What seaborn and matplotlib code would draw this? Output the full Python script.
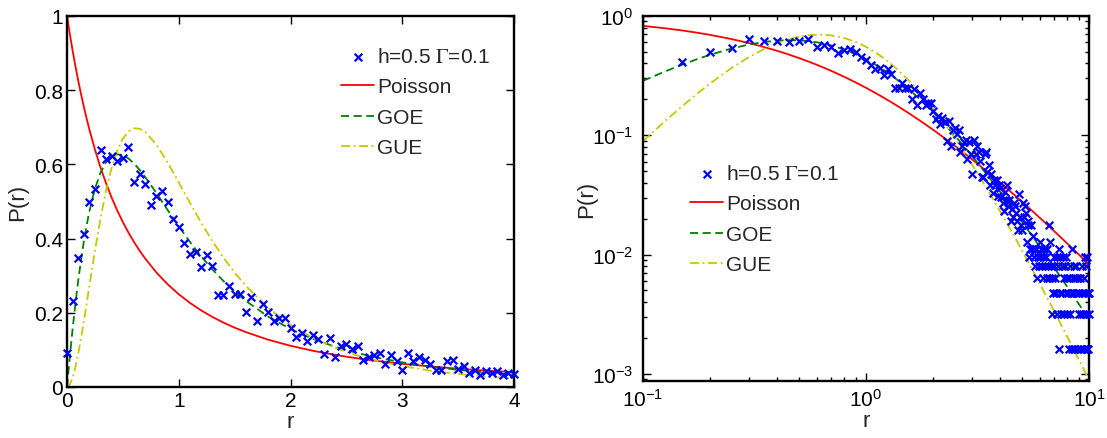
import numpy as np
import pandas as pd
import matplotlib
matplotlib.use("Agg")
import matplotlib.pyplot as plt
import matplotlib.ticker as mticker
import seaborn as sns

# ---------------- data ----------------
# bin centres of the measured level-spacing-ratio histogram
r_data = [
    0.00, 0.05, 0.10, 0.15, 0.20, 0.25, 0.30, 0.35, 0.40, 0.45, 0.50, 0.55, 0.60, 0.65, 0.70, 0.75, 0.80, 0.85, 0.90, 0.95,
    1.00, 1.05, 1.10, 1.15, 1.20, 1.25, 1.30, 1.35, 1.40, 1.45, 1.50, 1.55, 1.60, 1.65, 1.70, 1.75, 1.80, 1.85, 1.90, 1.95,
    2.00, 2.05, 2.10, 2.15, 2.20, 2.25, 2.30, 2.35, 2.40, 2.45, 2.50, 2.55, 2.60, 2.65, 2.70, 2.75, 2.80, 2.85, 2.90, 2.95,
    3.00, 3.05, 3.10, 3.15, 3.20, 3.25, 3.30, 3.35, 3.40, 3.45, 3.50, 3.55, 3.60, 3.65, 3.70, 3.75, 3.80, 3.85, 3.90, 3.95,
    4.00, 4.05, 4.10, 4.15, 4.20, 4.25, 4.30, 4.35, 4.40, 4.45, 4.50, 4.55, 4.60, 4.65, 4.70, 4.75, 4.80, 4.85, 4.90, 4.95,
    5.00, 5.05, 5.10, 5.15, 5.20, 5.25, 5.30, 5.35, 5.40, 5.45, 5.50, 5.55, 5.60, 5.65, 5.70, 5.75, 5.80, 5.85, 5.90, 5.95,
    6.00, 6.05, 6.10, 6.15, 6.20, 6.25, 6.30, 6.35, 6.40, 6.45, 6.50, 6.55, 6.60, 6.65, 6.70, 6.75, 6.80, 6.85, 6.90, 6.95,
    7.00, 7.05, 7.10, 7.15, 7.20, 7.25, 7.30, 7.35, 7.40, 7.45, 7.50, 7.55, 7.60, 7.65, 7.70, 7.75, 7.80, 7.85, 7.90, 7.95,
    8.00, 8.05, 8.10, 8.15, 8.20, 8.25, 8.30, 8.35, 8.40, 8.45, 8.50, 8.55, 8.60, 8.65, 8.70, 8.75, 8.80, 8.85, 8.90, 8.95,
    9.00, 9.05, 9.10, 9.15, 9.20, 9.25, 9.30, 9.35, 9.40, 9.45, 9.50, 9.55, 9.60, 9.65, 9.70, 9.75, 9.80, 9.85, 9.90, 9.95,
    10.00,
]
nan = float("nan")
p_data = [
    0.091, 0.232, 0.349, 0.413, 0.500, 0.535, 0.639, 0.614, 0.623, 0.608, 0.617, 0.647, 0.553, 0.575, 0.546, 0.491, 0.516, 0.527, 0.498, 0.452,
    0.430, 0.387, 0.358, 0.363, 0.323, 0.356, 0.326, 0.247, 0.247, 0.272, 0.251, 0.251, 0.203, 0.242, 0.179, 0.224, 0.202, 0.179, 0.185, 0.187,
    0.159, 0.136, 0.145, 0.124, 0.139, 0.130, 0.090, 0.132, 0.082, 0.110, 0.115, 0.103, 0.110, 0.072, 0.081, 0.087, 0.092, 0.063, 0.087, 0.069,
    0.047, 0.091, 0.069, 0.082, 0.073, 0.061, 0.045, 0.045, 0.069, 0.073, 0.049, 0.056, 0.038, 0.047, 0.033, 0.042, 0.038, 0.042, 0.031, 0.038,
    0.036, 0.0304, 0.0272, 0.0232, 0.0336, 0.0288, 0.0384, 0.0256, 0.0288, 0.0192, 0.0240, 0.0208, 0.0272, 0.0256, 0.0224, 0.0192, 0.0160, 0.0320, 0.0208, 0.0176,
    0.0160, 0.0272, 0.0208, 0.0256, 0.0224, 0.0128, 0.0176, 0.0192, 0.0096, 0.0112, 0.0176, 0.0112, 0.0144, 0.0096, 0.0112, 0.0080, 0.0112, 0.0064, 0.0096, 0.0080,
    0.0096, 0.0128, 0.0112, 0.0080, 0.0096, 0.0064, 0.0112, 0.0080, 0.0096, 0.0064, 0.0112, 0.0080, 0.0176, 0.0064, 0.0128, 0.0080, 0.0032, 0.0064, 0.0048, 0.0096,
    0.0080, 0.0064, 0.0048, 0.0096, 0.0032, 0.0080, 0.0016, 0.0112, 0.0048, 0.0096, 0.0032, 0.0080, 0.0048, 0.0096, 0.0064, 0.0032, 0.0080, 0.0048, 0.0096, 0.0064,
    0.0032, 0.0048, 0.0016, 0.0064, 0.0080, 0.0032, 0.0048, 0.0016, 0.0112, 0.0064, 0.0048, 0.0080, 0.0016, 0.0064, 0.0048, 0.0080, 0.0016, 0.0064, 0.0048, nan,
    0.0032, 0.0048, 0.0016, 0.0064, 0.0032, 0.0016, 0.0080, 0.0048, 0.0032, 0.0064, 0.0016, 0.0048, 0.0096, 0.0032, 0.0080, 0.0016, 0.0096, 0.0048, 0.0016, 0.0032,
    0.0048,
]

# reference distributions
r_curve = [0, 0.025, 0.05, 0.075, 0.1, 0.125, 0.15, 0.175, 0.2, 0.25, 0.3, 0.35, 0.4, 0.45, 0.5, 0.55, 0.6, 0.65, 0.7,
           0.8, 0.9, 1.0, 1.1, 1.2, 1.3, 1.4, 1.5, 1.6, 1.8, 2.0, 2.2, 2.4, 2.6, 2.8, 3.0, 3.25, 3.5, 3.75, 4.0,
           4.5, 5.0, 5.5, 6.0, 6.5, 7.0, 7.5, 8.0, 9.0, 10.0]
p_poisson = [1.0, 0.95181, 0.90703, 0.86533, 0.82645, 0.79012, 0.75614, 0.72431, 0.69444, 0.64, 0.59172, 0.54870, 0.51020,
             0.47562, 0.44444, 0.41623, 0.39063, 0.36731, 0.34602, 0.30864, 0.27701, 0.25, 0.22676, 0.20661, 0.18904,
             0.17361, 0.16, 0.14793, 0.12755, 0.11111, 0.09766, 0.08651, 0.07716, 0.06925, 0.0625, 0.05536, 0.04938,
             0.04432, 0.04, 0.03306, 0.02778, 0.02367, 0.02041, 0.01778, 0.015625, 0.01384, 0.012346, 0.01, 0.008264]
p_goe = [0, 0.08118, 0.15591, 0.22416, 0.28599, 0.34157, 0.39109, 0.43483, 0.47307, 0.53442, 0.57783, 0.60609, 0.62181,
         0.62734, 0.62480, 0.61602, 0.60243, 0.58538, 0.56586, 0.52259, 0.47736, 0.43301, 0.39113, 0.35247, 0.31733,
         0.28569, 0.25738, 0.23214, 0.18972, 0.15620, 0.12963, 0.10845, 0.09144, 0.07768, 0.06647, 0.05520, 0.04629,
         0.03916, 0.03340, 0.02483, 0.01892, 0.01474, 0.01169, 0.009425, 0.007705, 0.006378, 0.005337, 0.003845, 0.002860]
p_gue = [0, 0.006625, 0.025077, 0.05322, 0.08899, 0.13043, 0.17578, 0.22344, 0.27201, 0.36740, 0.45489, 0.53017, 0.59118,
         0.63743, 0.66959, 0.68896, 0.69720, 0.69607, 0.68732, 0.65314, 0.60528, 0.55133, 0.49631, 0.44324, 0.39381,
         0.34880, 0.30841, 0.27254, 0.21308, 0.16740, 0.13242, 0.10559, 0.08491, 0.06885, 0.05629, 0.04425, 0.03518,
         0.02828, 0.02296, 0.01556, 0.01088, 0.00782, 0.00576, 0.004331, 0.003317, 0.002581, 0.002038, 0.001319, 0.000890]

data_label = r"h=0.5 $\mathrm{\Gamma}$=0.1"
curve_labels = ["Poisson", "GOE", "GUE"]
left_yticklabels = ["0", "0.2", "0.4", "0.6", "0.8", "1"]

# ---------------- style ----------------
sns.set_theme(style="ticks")
plt.rcParams["font.family"] = ["Liberation Sans", "DejaVu Sans"]
plt.rcParams["mathtext.fontset"] = "custom"
plt.rcParams["mathtext.rm"] = "Liberation Sans"
plt.rcParams["mathtext.it"] = "Liberation Sans:italic"
plt.rcParams["mathtext.bf"] = "Liberation Sans:bold"
plt.rcParams["axes.unicode_minus"] = False

FS = 15
dfd = pd.DataFrame({"r": r_data, "P": p_data})
dfc = pd.DataFrame({"r": r_curve, "Poisson": p_poisson, "GOE": p_goe, "GUE": p_gue})

styles = {
    "Poisson": dict(color="#ff0000", linestyle="-"),
    "GOE": dict(color="#008000", linestyle=(0, (4.5, 2.5))),
    "GUE": dict(color="#c8c800", linestyle=(0, (5, 2, 1, 2))),
}

fig = plt.figure(figsize=(11.07, 4.39), dpi=100)
axL = fig.add_axes([67 / 1107, 1 - 388 / 439, 447 / 1107, 371 / 439])
axR = fig.add_axes([643 / 1107, 1 - 382 / 439, 446 / 1107, 365 / 439])


def draw(ax, dpts, dc):
    sns.scatterplot(data=dpts, x="r", y="P", marker="x", color="#0000ff", s=30, linewidth=1.6,
                    label=data_label, ax=ax, clip_on=False, zorder=3)
    for name in curve_labels:
        sns.lineplot(data=dc, x="r", y=name, sort=False, estimator=None, lw=1.3,
                     label=name, ax=ax, zorder=2, **styles[name])


def frame(ax):
    for s in ax.spines.values():
        s.set_linewidth(1.7)
        s.set_color("black")
    ax.tick_params(which="both", direction="in", top=True, right=True, colors="black",
                   labelsize=FS, width=1.0)
    ax.tick_params(which="major", length=6)
    ax.tick_params(which="minor", length=3)
    ax.set_xlabel("r", fontsize=16)
    ax.set_ylabel("P(r)", fontsize=16)


# left, linear
dL = dfd[dfd["r"] <= 4.0]
cL = dfc[dfc["r"] <= 4.0]
draw(axL, dL, cL)
axL.set_xlim(0, 4)
axL.set_ylim(0, 1)
axL.set_xticks([0, 1, 2, 3, 4])
axL.set_yticks([0, 0.2, 0.4, 0.6, 0.8, 1.0])
axL.set_yticklabels(left_yticklabels)
frame(axL)
axL.tick_params(which="major", pad=3)
axL.yaxis.set_label_coords(-0.088, 0.5)
axL.xaxis.set_label_coords(0.5, -0.065)

# right, log-log
dR = dfd[(dfd["r"] > 0.1) & dfd["P"].notna()]
cR = dfc[dfc["r"] >= 0.1]
draw(axR, dR, cR)
axR.set_xscale("log")
axR.set_yscale("log")
axR.set_xlim(0.1, 10)
axR.set_ylim(8.7e-4, 1)
axR.xaxis.set_major_locator(mticker.LogLocator(base=10, numticks=10))
axR.yaxis.set_major_locator(mticker.LogLocator(base=10, numticks=10))
axR.xaxis.set_minor_locator(mticker.LogLocator(base=10, subs=np.arange(2, 10), numticks=20))
axR.yaxis.set_minor_locator(mticker.LogLocator(base=10, subs=np.arange(2, 10), numticks=20))
axR.xaxis.set_minor_formatter(mticker.NullFormatter())
axR.yaxis.set_minor_formatter(mticker.NullFormatter())
frame(axR)
axR.tick_params(axis="y", which="major", pad=7)
axR.tick_params(axis="x", which="major", pad=5)
axR.yaxis.set_label_coords(-0.103, 0.5)
axR.xaxis.set_label_coords(0.5, -0.08)

# legends
for ax, anchor in ((axL, (341 / 1107, 1 - 48 / 439)), (axR, (690 / 1107, 1 - 165 / 439))):
    h, l = ax.get_legend_handles_labels()
    leg = ax.legend(h, l, loc="upper left", bbox_to_anchor=anchor, bbox_transform=fig.transFigure,
                    frameon=False, fontsize=FS, handlelength=1.6, handletextpad=0.15,
                    labelspacing=0.55, borderpad=0, borderaxespad=0, scatterpoints=1)
    leg.get_texts()[0].set_math_fontfamily("stix")

fig.savefig("out.png", dpi=100)
